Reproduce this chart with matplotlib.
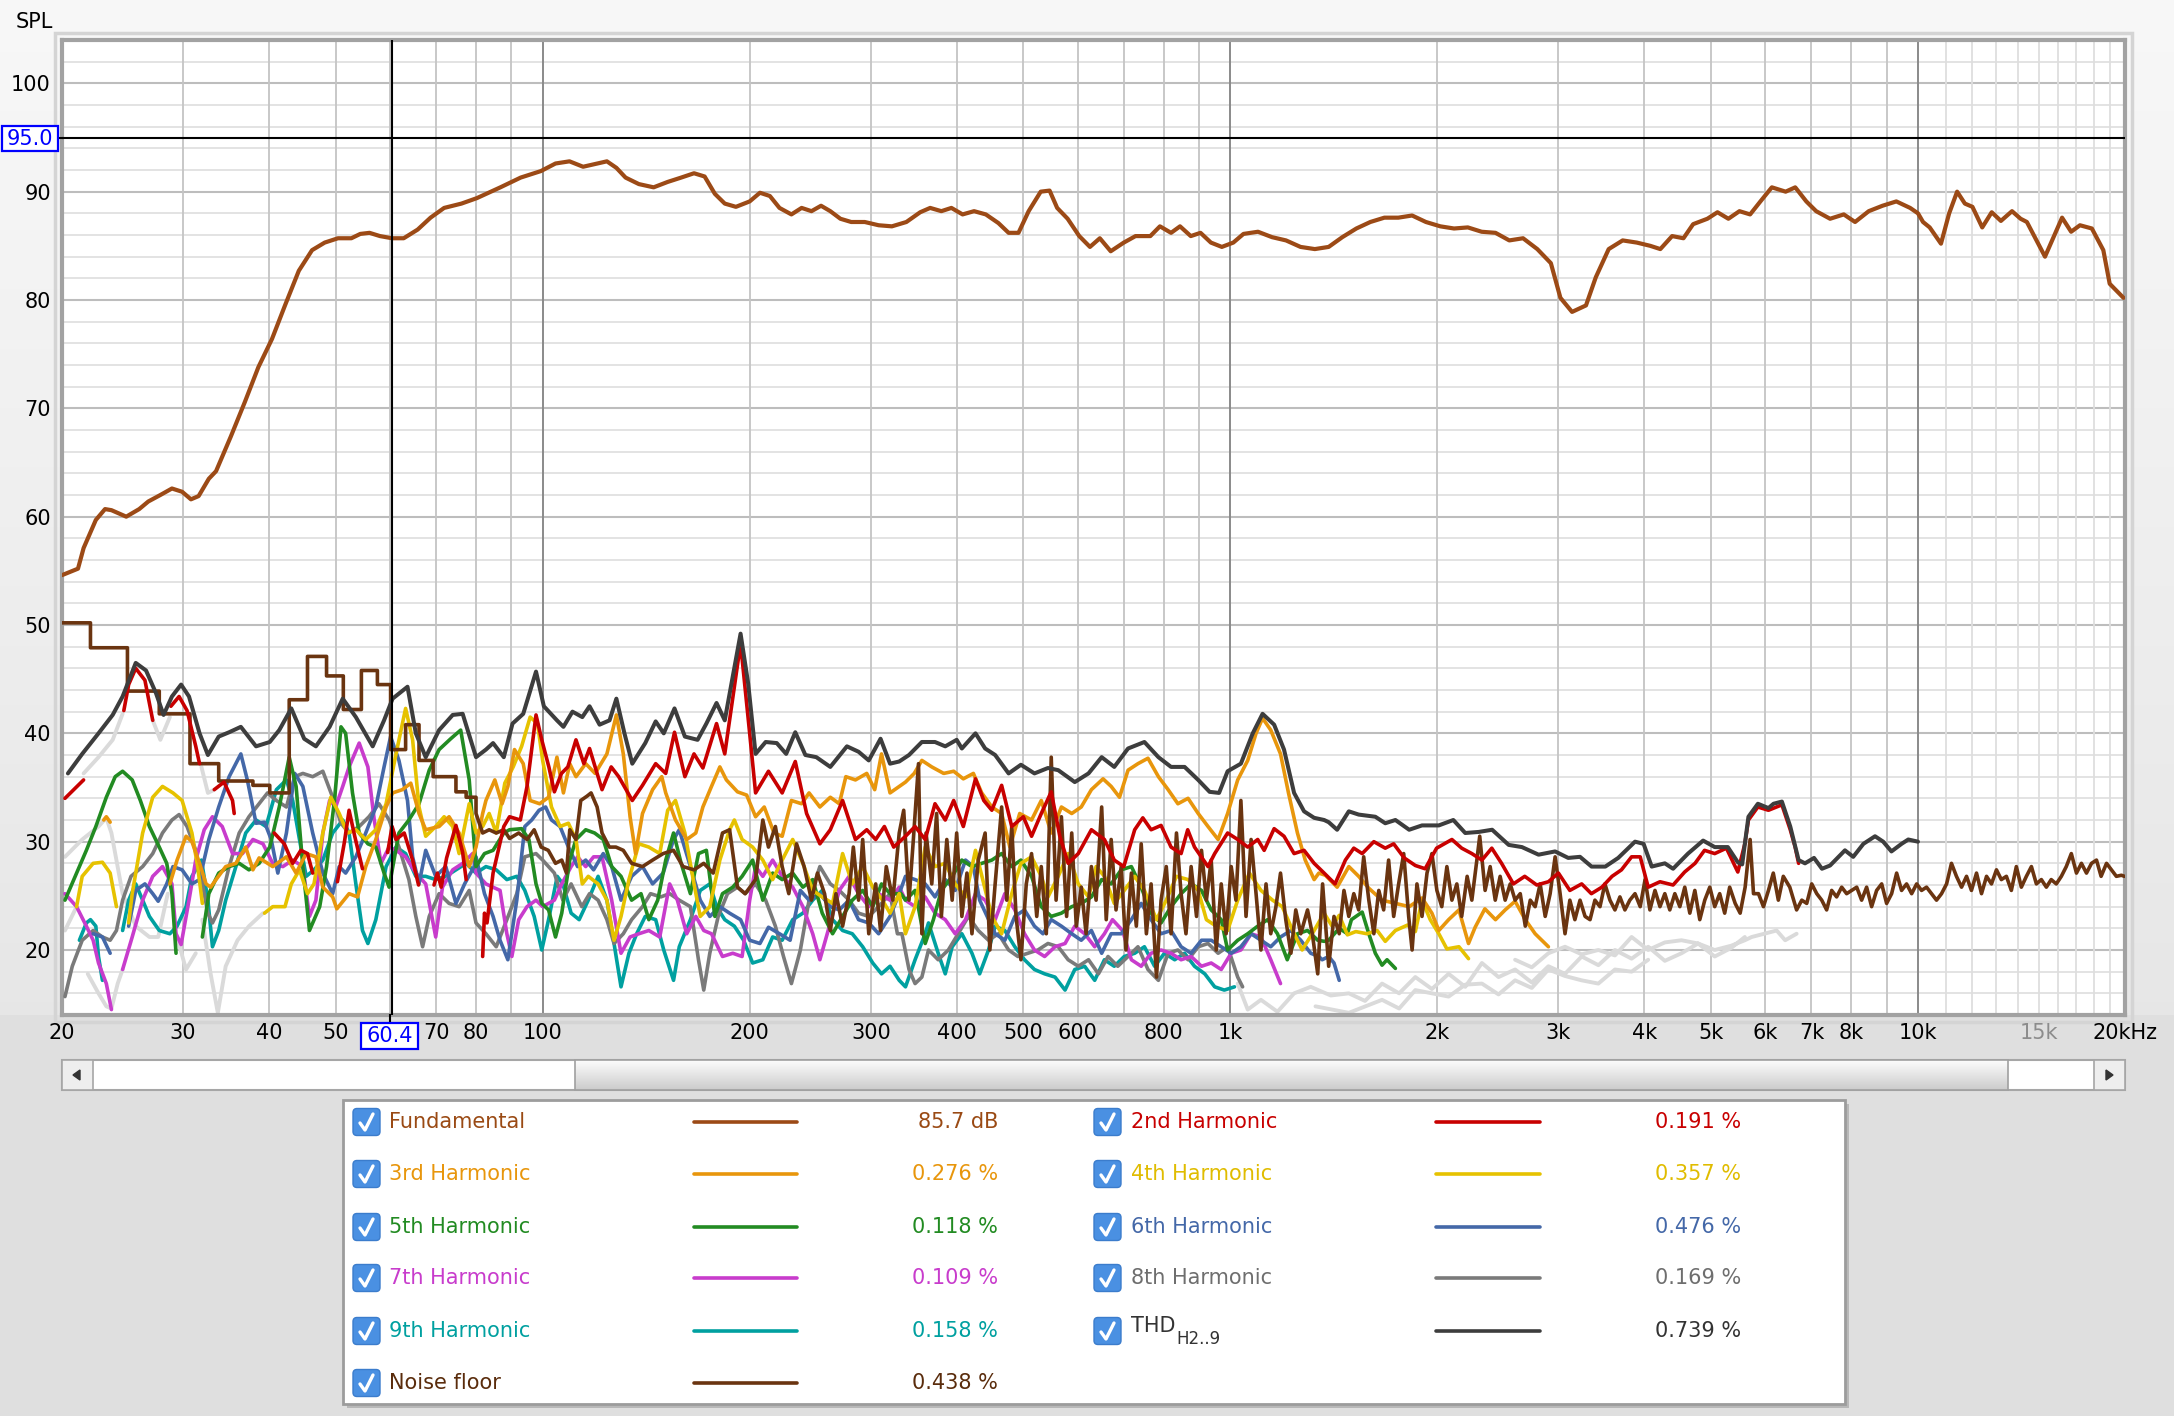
import numpy as np
import matplotlib
matplotlib.use('Agg')
import matplotlib.pyplot as plt
from matplotlib.patches import Rectangle, FancyBboxPatch, Polygon
from matplotlib.lines import Line2D
import matplotlib.transforms as mtransforms
from matplotlib.ticker import NullLocator

nan = float('nan')

# ---------------- data (frequency Hz, level dB) ----------------
fund = [(20, 54.6), (21.1, 55.2), (21.5, 57.1), (22.4, 59.7), (23.1, 60.7), (23.6, 60.6), (24.8, 60.0), (25.9, 60.7),
        (26.7, 61.4), (27.8, 62.0), (28.9, 62.6), (29.9, 62.3), (30.8, 61.6), (31.6, 61.9), (32.7, 63.5), (33.5, 64.2),
        (35.2, 67.4), (36.9, 70.6), (38.6, 73.8), (40.4, 76.4), (42.2, 79.5), (44.2, 82.7), (46.2, 84.6), (48.2, 85.3),
        (50.4, 85.7), (52.7, 85.7), (54.3, 86.1), (56, 86.2), (58, 85.9), (60.4, 85.7), (62.8, 85.7), (65.8, 86.5),
        (68.7, 87.6), (71.9, 88.5), (76.2, 88.9), (80.2, 89.4), (86.8, 90.4), (92.9, 91.3), (99.4, 91.9), (104.4, 92.6),
        (109.4, 92.8), (114.5, 92.3), (120, 92.6), (124, 92.8), (128, 92.2), (132, 91.3), (138, 90.7), (145, 90.4),
        (152, 90.9), (159, 91.3), (166, 91.7), (172, 91.4), (178, 89.8), (184, 88.9), (191, 88.6), (200, 89.1),
        (207, 89.9), (214, 89.6), (221, 88.5), (230, 87.9), (238, 88.5), (246, 88.2), (254, 88.7), (262, 88.2),
        (271, 87.5), (281, 87.2), (294, 87.2), (308, 86.9), (322, 86.8), (338, 87.2), (354, 88.1), (366, 88.5),
        (380, 88.2), (393, 88.5), (408, 87.9), (424, 88.2), (441, 87.9), (460, 87.1), (476, 86.2), (492, 86.2),
        (509, 88.2), (530, 90.0), (546, 90.1), (560, 88.5), (580, 87.5), (603, 85.9), (625, 84.9), (646, 85.7),
        (670, 84.5), (700, 85.3), (728, 85.9), (765, 85.9), (790, 86.8), (820, 86.2), (845, 86.8), (876, 85.9),
        (905, 86.2), (937, 85.3), (972, 84.9), (1010, 85.3), (1045, 86.1), (1097, 86.3), (1150, 85.8), (1205, 85.5),
        (1265, 84.9), (1327, 84.7), (1390, 84.9), (1455, 85.8), (1525, 86.6), (1598, 87.2), (1675, 87.6), (1755, 87.6),
        (1838, 87.8), (1925, 87.2), (2020, 86.8), (2115, 86.6), (2215, 86.7), (2320, 86.3), (2430, 86.2), (2545, 85.5),
        (2665, 85.7), (2795, 84.7), (2925, 83.4), (3020, 80.2), (3140, 78.9), (3290, 79.5), (3400, 82.1), (3550, 84.7),
        (3720, 85.5), (3900, 85.3), (4080, 85.0), (4220, 84.7), (4390, 85.9), (4560, 85.7), (4710, 87.0), (4940, 87.5),
        (5110, 88.1), (5300, 87.5), (5500, 88.2), (5700, 87.9), (5900, 89.1), (6130, 90.4), (6420, 90.0), (6630, 90.4),
        (6880, 89.1), (7110, 88.2), (7450, 87.5), (7800, 87.9), (8100, 87.2), (8480, 88.2), (8880, 88.7), (9300, 89.1),
        (9740, 88.5), (10000, 88.0), (10170, 87.2), (10400, 86.7), (10800, 85.2), (11100, 88.0), (11400, 90.0),
        (11700, 88.9), (12000, 88.6), (12400, 86.7), (12800, 88.1), (13200, 87.3), (13700, 88.2), (14100, 87.5),
        (14400, 87.2), (15300, 84.0), (16200, 87.6), (16700, 86.3), (17200, 86.9), (17900, 86.6), (18600, 84.6),
        (19000, 81.5), (19900, 80.2)]

h2 = [(20.2, 34.0), (20.8, 34.8), (21.5, 35.7), (21.6, nan),
      (24.6, 42.1), (25.0, 44.5), (25.6, 46.0), (26.4, 44.9), (27.1, 41.2), (27.3, nan),
      (28.8, 42.5), (29.6, 43.4), (30.4, 42.1), (31.3, 38.8), (31.7, 37.2), (32, nan),
      (33.3, 34.8), (34.4, 35.5), (35.4, 33.8), (35.6, 32.6), (36, nan),
      (40.7, 30.8), (42.1, 29.8), (43.3, 28.0), (44.5, 29.2), (45.5, 28.9), (46.3, 27.1), (47, nan),
      (50.3, 26.3), (51.5, 30.0), (52.3, 32.9), (53.3, 30.5), (54.7, 27.5), (55, nan),
      (59.5, 29.0), (60.4, 31.4), (61.2, 30.2), (62.9, 30.8), (64.7, 28.3), (66.0, 26.0), (66.5, nan),
      (69.5, 26.0), (70.3, 27.1), (71.2, 25.8), (72.5, 28.5), (74.8, 31.5), (76.5, 29.0), (77.4, 26.5), (78, nan),
      (81.8, 19.4), (82.3, 23.4), (83.0, 22.5), (84.7, 27.1), (87.8, 31.4), (89.5, 32.3), (92.8, 32.0), (94.9, 35.1),
      (97.8, 41.7), (99.7, 39.4), (102.1, 36.9), (104, 34.6), (106.5, 36.3), (108.8, 36.9), (111.8, 39.4),
      (114.8, 37.2), (117, 38.6), (122, 34.8), (125.8, 36.9), (129, 36.0), (135, 33.8), (139.7, 35.2), (146, 37.2),
      (151, 36.3), (155.5, 40.1), (161, 36.0), (166, 38.1), (171, 36.8), (179, 40.9), (184, 38.1), (194, 48.3),
      (200, 40.0), (204, 34.5), (213, 36.5), (223, 34.5), (233, 37.4), (242, 32.6), (253, 29.8), (262, 31.1),
      (273, 33.8), (285, 30.2), (296, 31.1), (305, 30.2), (314, 31.4), (324, 29.5), (337, 30.5), (348, 31.4),
      (360, 30.2), (372, 33.5), (385, 32.0), (396, 33.8), (409, 31.4), (426, 35.8), (438, 33.8), (450, 32.9),
      (465, 35.2), (481, 31.4), (500, 32.3), (514, 30.5), (531, 32.6), (549, 34.6), (565, 30.5), (581, 28.0),
      (601, 28.9), (628, 31.1), (656, 30.2), (678, 28.3), (700, 27.7), (726, 31.1), (746, 32.2), (767, 31.1),
      (793, 31.5), (820, 29.5), (848, 28.9), (867, 31.1), (887, 29.5), (928, 27.7), (949, 28.9), (991, 30.8),
      (1025, 30.2), (1060, 29.5), (1096, 30.2), (1120, 29.2), (1158, 31.2), (1197, 30.5), (1238, 28.9),
      (1280, 29.2), (1324, 28.0), (1369, 27.1), (1420, 26.1), (1470, 28.3), (1512, 29.4), (1555, 28.9),
      (1617, 30.0), (1680, 29.4), (1728, 29.8), (1790, 28.5), (1858, 27.8), (1920, 27.5), (1995, 29.4),
      (2100, 30.2), (2170, 29.4), (2245, 28.9), (2322, 28.3), (2400, 29.4), (2480, 28.0), (2580, 26.1),
      (2680, 26.8), (2790, 26.0), (2901, 26.3), (3000, 27.1), (3117, 25.5), (3243, 26.1), (3350, 25.2),
      (3470, 25.8), (3590, 26.8), (3705, 27.4), (3833, 28.6), (3945, 28.6), (4052, 25.8), (4215, 26.3),
      (4404, 26.0), (4578, 27.2), (4740, 28.0), (4893, 29.2), (5063, 28.9), (5265, 29.4), (5470, 27.2),
      (5600, 29.8), (5668, 32.0), (5850, 33.2), (6061, 32.9), (6340, 33.4), (6520, 31.1), (6628, 29.5),
      (6705, 28.0)]

h3 = [(23.0, 32.0), (23.2, 32.3), (23.5, 31.8), (23.6, nan),
      (28.7, 26.1), (29.4, 28.3), (30.3, 30.5), (30.9, 30.0), (31.7, 28.0), (32.4, 26.1), (32.9, 25.8), (33.5, 26.5),
      (34.6, 27.7), (35.8, 28.0), (37.0, 29.5), (37.9, 27.4), (38.7, 28.5), (40.5, 27.7), (42.4, 28.6), (43.8, 27.1),
      (45.3, 28.9), (46.8, 28.6), (47.9, 25.8), (49.5, 24.9), (50.2, 23.8), (52.3, 25.2), (53.8, 24.9), (55.3, 27.7),
      (57.2, 30.2), (59.2, 33.2), (60.5, 34.5), (62.5, 34.8), (64.3, 35.4), (66.1, 32.6), (67.6, 31.1), (70.7, 31.4),
      (73.1, 32.3), (75.6, 30.8), (78.2, 27.7), (80.0, 29.5), (81.8, 32.6), (82.7, 33.8), (85.2, 35.7), (87.3, 33.5),
      (89, 35.1), (91, 38.5), (93.7, 37.2), (95.9, 33.8), (99, 33.5), (102, 34.1), (104.9, 37.8), (107.2, 34.5),
      (109.5, 37.2), (111.8, 36.0), (115.5, 37.2), (119.2, 36.3), (124, 38.1), (128, 41.7), (131, 38.1), (134, 32.3),
      (136.5, 28.9), (139.7, 32.6), (144.5, 34.8), (149, 36.0), (151, 34.5), (156, 32.0), (162, 30.2), (167, 30.8),
      (171, 33.2), (176, 35.1), (181, 36.9), (185, 35.7), (192, 34.6), (198, 34.3), (204, 32.3), (210, 33.2),
      (217, 30.8), (223, 30.5), (230, 33.8), (238, 33.5), (244, 34.5), (253, 33.2), (262, 34.1), (270, 33.5),
      (276, 36.0), (285, 35.7), (296, 36.3), (304, 34.8), (311, 38.1), (320, 34.5), (330, 35.1), (337, 35.5),
      (347, 36.3), (356, 37.5), (368, 36.9), (383, 36.3), (396, 36.5), (409, 35.8), (423, 36.3), (435, 34.5),
      (450, 33.2), (465, 32.6), (478, 29.5), (494, 32.6), (514, 32.0), (531, 33.8), (549, 30.8), (568, 33.2),
      (588, 32.6), (607, 33.2), (628, 34.8), (653, 35.8), (671, 35.1), (690, 34.1), (710, 36.6), (734, 37.2),
      (759, 37.7), (786, 36.0), (812, 34.8), (839, 33.5), (868, 34.0), (898, 32.6), (928, 31.4), (960, 30.2),
      (991, 32.6), (1025, 35.7), (1060, 37.5), (1090, 40.0), (1114, 41.4), (1145, 40.3), (1183, 38.1), (1215, 34.5),
      (1252, 30.8), (1285, 28.3), (1324, 26.5), (1345, 27.1), (1375, 26.9), (1430, 25.8), (1487, 27.7), (1537, 26.8),
      (1590, 25.7), (1662, 24.6), (1738, 24.3), (1820, 24.0), (1900, 24.8), (1964, 23.4), (2010, 21.8), (2077, 22.8),
      (2150, 23.7), (2220, 20.6), (2270, 22.1), (2345, 23.8), (2430, 22.8), (2510, 23.7), (2595, 24.5), (2685, 22.8),
      (2775, 21.5), (2901, 20.3)]

h4 = [(21.0, 24.0), (21.4, 26.8), (22.2, 28.0), (22.9, 28.1), (23.5, 27.1), (24.0, 24.0), (24.2, nan),
      (25.0, 22.5), (25.3, 25.2), (26.2, 30.8), (27.1, 34.1), (28.0, 35.1), (29.0, 34.5), (29.9, 33.8), (30.9, 30.8),
      (31.5, 27.7), (32.0, 24.3), (32.2, nan),
      (39.4, 23.4), (40.5, 24.0), (42.2, 24.0), (43.1, 26.1), (44.3, 27.4), (45.5, 25.2), (46.5, 26.1), (47.9, 30.8),
      (49.2, 34.1), (50.6, 32.6), (52, 30.8), (53.5, 31.1), (55.3, 30.2), (57.2, 31.1), (59.2, 33.5), (61.2, 38.1),
      (63.2, 42.3), (64.7, 39.4), (66.1, 33.2), (67.6, 30.5), (69.9, 31.4), (71.9, 32.3), (74, 31.4), (75.6, 28.9),
      (78.2, 33.5), (80, 30.8), (81.8, 31.4), (83.6, 32.6), (85.6, 30.8), (88.1, 35.4), (90.6, 36.9), (93.2, 38.8),
      (95.9, 41.5), (98.3, 40.9), (100, 37.5), (103, 33.2), (106, 31.4), (109, 31.7), (111.8, 30.2), (114.2, 26.1),
      (116.5, 26.8), (120.4, 26.1), (124, 24.6), (127, 20.9), (130, 23.1), (133.5, 26.5), (138, 29.8), (142.7, 29.5),
      (148, 28.9), (152, 32.9), (156, 33.8), (161, 30.8), (166, 26.1), (169.5, 23.1), (175, 24.0), (181, 28.3),
      (187, 31.1), (190, 32.0), (195, 30.2), (202, 29.5), (209, 28.3), (216, 26.5), (223, 28.3), (231, 30.2),
      (239, 28.0), (247, 25.5), (255, 24.9), (264, 24.3), (273, 28.9), (282, 26.1), (292, 27.7), (302, 25.8),
      (312, 24.6), (320, 23.4), (330, 25.2), (337, 21.5), (348, 24.0), (360, 29.5), (372, 27.7), (385, 28.0),
      (398, 26.1), (412, 24.9), (426, 29.2), (438, 26.1), (450, 23.1), (465, 21.5), (481, 25.2), (496, 28.0),
      (514, 28.6), (531, 26.8), (543, 24.9), (562, 26.8), (581, 28.9), (601, 26.1), (622, 24.9), (638, 27.7),
      (656, 26.8), (678, 24.3), (701, 25.5), (726, 26.8), (750, 25.5), (781, 22.8), (807, 24.6), (835, 26.8),
      (868, 26.5), (898, 25.5), (923, 22.8), (954, 22.2), (991, 21.8), (1025, 24.6), (1066, 27.1), (1108, 25.5),
      (1152, 24.6), (1190, 24.0), (1232, 21.8), (1272, 20.0), (1324, 21.8), (1369, 23.4), (1406, 22.2), (1440, 23.2),
      (1480, 21.4), (1522, 21.7), (1580, 21.5), (1635, 21.8), (1680, 20.8), (1738, 21.8), (1810, 22.3), (1858, 21.7),
      (1900, 24.6), (1953, 22.8), (2010, 21.5), (2065, 20.1), (2150, 20.3), (2220, 19.2)]

h5 = [(20.2, 24.6), (21.0, 27.1), (21.7, 29.2), (22.4, 31.4), (23.2, 34.1), (23.9, 36.0), (24.5, 36.5), (25.3, 35.7),
      (26.0, 33.8), (26.8, 31.4), (27.7, 29.5), (28.4, 28.0), (28.9, 25.2), (29.3, 19.7), (29.5, nan),
      (32.0, 21.2), (32.7, 25.2), (33.8, 27.1), (35.0, 27.7), (36.2, 28.0), (37.4, 27.4), (38.7, 28.0), (40.1, 29.5),
      (41.4, 33.2), (42.8, 37.8), (43.8, 35.1), (44.8, 27.7), (45.8, 21.8), (47.4, 24.0), (48.5, 27.7), (49.8, 33.8),
      (50.9, 40.6), (51.7, 40.0), (52.9, 34.5), (54.1, 30.8), (55.7, 29.8), (57.2, 29.5), (58.8, 27.1), (59.8, 25.8),
      (61.8, 30.8), (63.9, 32.0), (66.1, 33.5), (68.4, 36.6), (70.7, 38.5), (73.5, 39.5), (76, 40.3), (78.2, 35.7),
      (80, 27.7), (82.3, 28.9), (84.7, 29.2), (87.8, 30.8), (89.5, 31.1), (93.2, 31.2), (95.5, 30.2), (97.8, 26.1),
      (99.7, 24.3), (102, 23.7), (104.4, 21.2), (106.6, 23.4), (109.5, 28.3), (111.8, 30.2), (115.5, 31.1),
      (119, 30.8), (122.5, 30.2), (126, 27.7), (130, 26.8), (134.7, 24.6), (139, 25.2), (142.7, 22.8), (147, 24.6),
      (151, 28.3), (155, 30.8), (159, 28.0), (164, 25.2), (168.5, 28.9), (173, 29.2), (178, 23.1), (182.6, 25.2),
      (189, 25.8), (195, 26.8), (202, 28.3), (209, 24.6), (216, 27.1), (223, 26.5), (231, 27.1), (239, 25.8),
      (247, 26.5), (255, 23.4), (264, 21.5), (273, 23.1), (282, 24.6), (292, 25.5), (302, 24.0), (311, 26.1),
      (320, 25.2), (332, 25.2), (337, 24.6), (348, 25.5), (360, 20.6), (370, 22.8), (380, 25.5), (394, 26.8),
      (407, 28.3), (421, 27.7), (435, 28.0), (450, 28.3), (465, 28.9), (481, 27.7), (496, 28.3), (514, 26.8),
      (531, 24.0), (549, 23.1), (568, 23.4), (588, 24.0), (607, 24.3), (628, 24.9), (650, 26.5), (671, 26.1),
      (694, 27.4), (718, 27.7), (742, 25.8), (767, 23.4), (793, 22.5), (820, 24.0), (848, 25.2), (877, 26.1),
      (908, 25.5), (938, 23.7), (970, 22.8), (991, 20.0), (1025, 20.9), (1060, 21.5), (1096, 22.2), (1133, 22.8),
      (1171, 21.5), (1210, 19.1), (1252, 21.5), (1295, 21.8), (1340, 20.9), (1370, 20.8), (1390, 20.9), (1440, 22.0),
      (1480, 21.5), (1500, 22.8), (1555, 23.5), (1590, 21.5), (1625, 19.7), (1662, 18.6), (1690, 19.1), (1738, 18.3)]

h6 = [(22.2, 21.5), (22.9, 21.2), (23.5, 19.7), (23.7, nan),
      (25.0, 22.2), (25.6, 25.5), (26.4, 26.1), (27.1, 25.2), (27.6, 24.5), (28.4, 26.1), (29.0, 27.7), (29.9, 27.4),
      (30.9, 26.1), (31.7, 26.5), (32.7, 30.2), (33.8, 33.2), (35.0, 36.0), (36.4, 38.1), (37.2, 35.7), (38.3, 31.7),
      (39.4, 31.8), (40.3, 30.2), (41.2, 27.1), (42.4, 30.8), (43.6, 36.3), (44.8, 35.1), (46.3, 30.8), (47.9, 27.1),
      (49.5, 25.2), (50.6, 27.7), (51.7, 27.1), (53.5, 28.6), (55.3, 30.8), (57.2, 33.2), (58.8, 36.9), (60.1, 39.7),
      (61.8, 37.5), (63.6, 33.8), (64.7, 28.6), (66.1, 26.1), (67.6, 29.2), (69.9, 26.8), (72.3, 27.7), (74.8, 24.3),
      (77, 26.1), (79.5, 27.7), (80, 28.6), (82.3, 25.2), (84.7, 23.1), (86.7, 20.9), (89, 19.1), (91.7, 24.6),
      (94.2, 31.4), (96.4, 32.0), (98.8, 32.9), (101, 33.2), (103, 32.0), (106, 31.4), (109, 29.5), (112.4, 27.7),
      (115.5, 28.3), (118.6, 27.4), (122.5, 28.9), (126, 27.7), (130, 24.6), (134.7, 26.8), (139.7, 27.7),
      (144.5, 26.1), (149.7, 27.1), (155, 30.2), (158, 31.1), (164, 27.7), (169.5, 24.6), (175, 23.1), (181, 24.0),
      (187, 23.4), (194, 22.8), (200, 20.9), (207, 20.6), (213, 22.1), (221, 21.5), (229, 20.9), (237, 25.5),
      (244, 24.6), (253, 25.2), (262, 24.0), (270, 23.7), (279, 24.6), (288, 22.8), (298, 22.5), (308, 21.5),
      (320, 23.1), (330, 25.2), (337, 26.8), (348, 26.5), (360, 26.1), (372, 24.9), (385, 26.5), (398, 25.5),
      (412, 28.3), (423, 27.7), (432, 24.6), (443, 23.1), (455, 21.5), (470, 20.9), (486, 23.1), (502, 23.7),
      (519, 22.2), (534, 21.5), (549, 22.8), (568, 22.2), (588, 21.5), (607, 20.9), (628, 21.8), (650, 19.7),
      (671, 21.5), (694, 21.5), (718, 22.8), (742, 24.3), (767, 22.8), (793, 21.5), (820, 21.8), (848, 20.3),
      (877, 19.7), (908, 20.9), (938, 20.9), (970, 20.3), (1003, 19.7), (1036, 20.3), (1072, 21.5), (1108, 20.9),
      (1145, 20.3), (1183, 21.2), (1225, 21.8), (1266, 20.9), (1309, 19.7), (1345, 19.4), (1360, 19.1), (1390, 19.4),
      (1415, 18.8), (1440, 17.2)]

h7 = [(20.2, 25.2), (21.0, 24.0), (21.7, 22.2), (22.2, 20.9), (22.6, 18.8), (23.2, 16.9), (23.6, 14.5), (24.0, nan),
      (24.5, 18.2), (25.3, 21.2), (26.2, 24.6), (27.1, 26.8), (28.0, 27.7), (28.9, 26.1), (29.3, 21.5), (29.8, 20.5),
      (30.6, 24.6), (31.3, 28.3), (32.2, 31.1), (33.1, 32.3), (34.2, 31.4), (35.4, 28.9), (36.6, 28.9), (37.9, 30.2),
      (39.2, 29.8), (40.5, 28.0), (41.9, 27.7), (43.3, 28.3), (44.8, 27.7), (45.8, 23.1), (46.8, 24.6), (47.9, 30.8),
      (49.0, 33.8), (50.0, 33.2), (51.2, 35.1), (52.3, 36.9), (54.1, 39.1), (55.7, 36.9), (56.9, 32.0), (58.2, 28.0),
      (59.8, 29.5), (61.2, 29.2), (63.2, 28.6), (65.4, 27.1), (67.6, 26.1), (69.9, 21.2), (71.5, 25.8), (74, 27.4),
      (76.5, 28.0), (79.1, 28.9), (80, 27.1), (82.7, 26.1), (86.7, 25.5), (88.7, 21.5), (90.2, 19.4), (92.3, 22.8),
      (94.9, 24.0), (97.8, 24.6), (100, 24.0), (104, 24.6), (106.6, 26.1), (110, 27.7), (112.4, 28.6), (115.5, 27.7),
      (118.6, 28.6), (122, 28.6), (126, 24.6), (130, 19.7), (134, 21.2), (138, 21.5), (142.7, 21.8), (148, 21.2),
      (153, 26.1), (157, 24.6), (162, 21.5), (167, 23.1), (171.5, 21.8), (176, 21.5), (182.6, 19.4), (189, 19.7),
      (195, 19.4), (200, 24.6), (204, 27.7), (209, 26.8), (216, 28.3), (223, 26.8), (231, 25.8), (239, 24.0),
      (247, 21.5), (253, 19.1), (262, 22.5), (270, 25.5), (279, 26.8), (288, 25.2), (298, 24.0), (308, 25.2),
      (320, 24.6), (330, 25.8), (337, 24.6), (348, 24.0), (360, 24.9), (372, 23.4), (385, 22.8), (398, 21.5),
      (412, 22.8), (426, 25.2), (440, 24.6), (455, 22.8), (470, 25.2), (486, 23.7), (502, 21.5), (519, 20.0),
      (537, 19.4), (556, 20.3), (575, 20.6), (594, 22.2), (614, 21.5), (635, 20.3), (656, 21.5), (674, 22.8),
      (697, 21.8), (718, 19.1), (742, 18.5), (767, 19.7), (793, 20.0), (820, 19.7), (848, 19.1), (877, 19.4),
      (908, 18.5), (938, 18.8), (970, 18.2), (1003, 19.7), (1036, 20.0), (1072, 21.5), (1108, 21.2), (1145, 19.1),
      (1183, 16.9)]

h8 = [(20.2, 15.7), (20.7, 18.5), (21.4, 20.9), (22.2, 21.8), (22.9, 21.2), (23.5, 20.9), (24.0, 21.8), (24.5, 24.6),
      (25.2, 26.8), (26.2, 27.7), (27.1, 28.9), (28.0, 30.8), (28.9, 32.0), (29.6, 32.5), (30.4, 31.4), (31.3, 29.2),
      (32.0, 26.1), (32.6, 23.4), (33.1, 22.5), (33.8, 23.7), (35.0, 27.7), (36.2, 30.8), (37.4, 32.3), (38.7, 33.5),
      (39.8, 34.5), (41.0, 33.8), (42.4, 33.2), (43.6, 36.0), (44.8, 36.3), (46.3, 36.0), (47.9, 36.5), (49.5, 34.1),
      (50.9, 31.7), (52.3, 30.8), (54.1, 31.4), (55.9, 32.3), (57.8, 33.5), (59.8, 32.0), (61.8, 29.5), (63.9, 26.5),
      (65.4, 23.1), (66.9, 20.3), (68.4, 23.1), (70.7, 25.2), (73.1, 24.3), (75.6, 24.0), (78.2, 25.5), (80, 22.5),
      (82.7, 21.5), (85.6, 20.3), (88.7, 22.8), (91.7, 25.2), (94.2, 28.6), (97.8, 28.9), (100, 28.3), (104, 27.1),
      (107, 24.6), (110, 26.1), (114, 24.0), (117, 25.2), (120.4, 24.6), (124, 22.8), (127, 20.6), (131, 21.5),
      (134.7, 22.8), (139.7, 24.0), (143.5, 25.2), (148.5, 24.9), (153, 25.2), (158, 24.6), (164, 24.0), (168.5, 19.1),
      (171.5, 16.3), (175, 19.7), (180, 23.1), (185.7, 25.2), (192, 25.8), (197, 25.2), (204, 26.1), (211, 24.6),
      (218, 22.2), (224, 19.4), (230, 16.9), (237, 20.0), (244, 24.6), (253, 27.7), (262, 26.1), (270, 25.5),
      (279, 24.6), (288, 23.4), (298, 23.1), (308, 24.0), (320, 25.2), (328, 21.5), (333, 21.5), (341, 18.2),
      (348, 16.9), (356, 17.5), (364, 20.0), (376, 19.1), (389, 20.0), (402, 21.5), (416, 23.1), (430, 21.8),
      (445, 20.9), (460, 21.5), (476, 20.0), (491, 19.4), (508, 19.7), (525, 20.0), (543, 20.6), (562, 20.3),
      (581, 19.1), (601, 18.5), (622, 19.1), (643, 17.8), (664, 19.4), (686, 18.5), (710, 19.4), (734, 20.3),
      (759, 18.2), (786, 17.2), (812, 19.7), (839, 20.0), (868, 19.1), (898, 20.3), (928, 20.6), (960, 19.7),
      (991, 20.3), (1025, 17.5), (1042, 16.6)]

h9 = [(21.2, 20.9), (21.7, 22.5), (22.0, 22.8), (22.4, 22.2), (22.6, 19.4), (22.9, 17.2), (23.1, nan),
      (24.5, 21.8), (25.0, 24.6), (25.6, 26.1), (26.2, 24.6), (26.8, 23.1), (27.7, 21.8), (28.7, 21.5), (29.4, 22.2),
      (30.3, 24.0), (30.9, 26.8), (31.9, 28.3), (32.6, 24.6), (33.1, 20.3), (33.8, 21.8), (34.6, 24.6), (35.8, 27.7),
      (37.0, 30.8), (38.3, 32.0), (39.6, 31.4), (41.0, 34.8), (42.4, 35.7), (43.3, 33.8), (44.3, 30.2), (45.3, 26.8),
      (46.5, 27.4), (47.9, 28.3), (49.5, 30.8), (51.2, 32.0), (52.3, 30.8), (53.5, 26.1), (54.7, 21.8), (55.7, 20.6),
      (57.2, 22.8), (59.2, 27.7), (61.2, 29.5), (63.2, 28.9), (65.4, 26.8), (67.6, 26.8), (69.9, 26.5), (72.3, 26.8),
      (74.8, 27.4), (77.4, 28.0), (80, 27.1), (82.7, 27.7), (85.6, 27.4), (88.7, 26.5), (91.7, 26.8), (94.2, 25.5),
      (97.2, 23.1), (99.7, 20.0), (102, 22.8), (105, 26.8), (107, 26.1), (110, 23.4), (113, 22.8), (116.5, 24.6),
      (120.4, 26.8), (124, 24.6), (127, 20.6), (130, 16.6), (133.5, 19.7), (137, 21.5), (141, 23.1), (146, 22.8),
      (150, 20.0), (155, 17.2), (158, 20.3), (164, 22.8), (169.5, 25.5), (175, 26.1), (179, 24.0), (184, 22.8),
      (190, 22.2), (196, 20.9), (202, 18.8), (209, 19.1), (216, 21.2), (223, 20.9), (231, 22.8), (239, 23.4),
      (247, 24.6), (255, 25.5), (264, 22.8), (273, 21.8), (282, 21.5), (292, 20.3), (302, 18.8), (311, 17.8),
      (320, 18.5), (330, 17.2), (337, 16.6), (348, 19.1), (360, 21.5), (364, 22.5), (376, 19.7), (385, 17.8),
      (394, 20.3), (407, 21.5), (421, 19.7), (432, 17.8), (445, 20.0), (455, 22.2), (470, 21.8), (486, 20.3),
      (502, 19.1), (519, 18.2), (537, 17.8), (556, 17.5), (575, 16.3), (594, 18.2), (614, 18.5), (635, 17.2),
      (656, 19.1), (678, 18.5), (701, 19.4), (726, 19.7), (750, 20.3), (776, 18.5), (802, 19.7), (830, 19.1),
      (858, 19.7), (887, 18.5), (918, 17.8), (949, 16.6), (980, 16.3), (1014, 16.6)]

thd = [(20.4, 36.3), (21.4, 38.1), (22.6, 40.0), (23.7, 41.7), (24.5, 43.4), (25.6, 46.5), (26.5, 45.8), (27.4, 43.7),
       (28.1, 41.7), (28.9, 43.4), (29.8, 44.5), (30.6, 43.4), (31.7, 40.0), (32.6, 38.0), (33.8, 39.7), (35.0, 40.1),
       (36.4, 40.6), (38.3, 38.8), (40.1, 39.2), (41.4, 40.3), (43.1, 42.3), (45.0, 39.5), (46.8, 38.8), (49.0, 40.6),
       (51.2, 43.2), (53.5, 41.5), (56.6, 38.8), (58.8, 41.2), (60.5, 43.2), (63.6, 44.3), (65.4, 40.0), (67.6, 37.8),
       (70.7, 40.3), (74, 41.7), (76.5, 41.8), (80, 37.8), (82.7, 38.5), (84.7, 39.1), (87.8, 37.8), (90.4, 40.9),
       (93.7, 41.8), (97.8, 45.7), (100.4, 42.5), (104.9, 41.2), (107.2, 40.6), (110.5, 42.0), (114.2, 41.5),
       (117, 42.5), (121, 40.8), (125.1, 41.2), (128, 43.2), (131.5, 40.0), (135, 37.2), (141, 39.1), (146, 41.1),
       (150, 40.0), (155.5, 42.3), (161, 39.7), (168, 39.4), (173, 40.9), (179, 42.8), (184, 41.2), (194, 49.2),
       (199, 44.6), (204, 38.1), (211, 39.2), (219, 39.1), (226, 38.1), (233, 40.1), (241, 38.0), (250, 37.8),
       (262, 36.9), (277, 38.8), (288, 38.3), (298, 37.5), (310, 39.5), (320, 37.2), (330, 37.4), (341, 38.0),
       (356, 39.2), (372, 39.2), (385, 38.8), (400, 39.4), (407, 38.6), (426, 40.0), (440, 38.6), (455, 38.0),
       (476, 36.3), (496, 37.1), (519, 36.3), (543, 36.8), (562, 36.6), (594, 35.5), (622, 36.3), (650, 37.8),
       (678, 36.9), (710, 38.6), (750, 39.2), (786, 37.8), (820, 36.9), (858, 36.9), (898, 35.7), (933, 34.6),
       (963, 34.5), (991, 36.5), (1036, 37.2), (1078, 40.0), (1114, 41.8), (1158, 40.8), (1197, 38.5), (1238, 34.5),
       (1280, 32.8), (1324, 32.2), (1369, 32.0), (1390, 31.8), (1430, 31.1), (1487, 32.8), (1537, 32.5), (1625, 32.3),
       (1680, 31.7), (1738, 32.0), (1820, 31.1), (1900, 31.5), (2010, 31.5), (2110, 32.0), (2196, 30.8), (2298, 30.9),
       (2403, 31.1), (2540, 29.7), (2655, 29.5), (2807, 28.8), (2967, 29.1), (3100, 28.5), (3225, 28.6), (3352, 27.7),
       (3510, 27.7), (3665, 28.5), (3877, 30.0), (3990, 29.8), (4100, 27.7), (4284, 28.0), (4404, 27.5), (4630, 28.9),
       (4870, 30.1), (5063, 29.5), (5290, 29.5), (5470, 28.1), (5550, 27.9), (5668, 32.3), (5850, 33.5), (6061, 33.1),
       (6165, 33.5), (6340, 33.7), (6520, 31.4), (6705, 28.3), (6850, 28.0), (7060, 28.5), (7250, 27.5), (7450, 27.8),
       (7830, 29.2), (8050, 28.6), (8330, 29.8), (8660, 30.5), (8900, 30.0), (9150, 29.1), (9465, 29.8), (9680, 30.2),
       (10000, 30.0)]

noise = [(20, 50.2), (22.0, 50.2), (22.0, 47.9), (24.9, 47.9), (24.9, 43.9), (27.7, 43.9), (27.7, 41.8), (30.7, 41.8),
         (30.7, 37.2), (33.8, 37.2), (33.8, 35.6), (37.9, 35.6), (37.9, 35.2), (40.1, 35.2), (40.1, 34.5), (42.8, 34.5),
         (42.8, 43.1), (45.5, 43.1), (45.5, 47.1), (48.5, 47.1), (48.5, 45.3), (51.3, 45.3), (51.3, 42.2), (54.5, 42.2),
         (54.5, 45.8), (57.5, 45.8), (57.5, 44.5), (60.1, 44.5), (60.1, 38.5), (63.2, 38.5), (63.2, 40.8), (66.1, 40.8),
         (66.1, 37.5), (69.3, 37.5), (69.3, 36.0), (74.8, 36.0), (74.8, 34.6), (77.4, 34.6), (77.4, 34.1), (80, 34.1),
         (80, 32.6), (81.8, 30.8), (83.6, 31.1), (85.6, 30.8), (87.8, 31.1), (89.5, 30.3), (92.3, 30.8), (94.9, 30.2),
         (97.2, 31.1), (99.5, 29.5), (101.9, 29.2), (104.4, 28.0), (106.6, 28.3), (108.3, 27.1), (109.5, 31.1),
         (111.8, 30.2), (113.6, 33.8), (116, 34.2), (117.6, 34.5), (120, 33.2), (122, 30.8), (125, 29.5), (127.8, 29.5),
         (131, 29.2), (134.7, 28.0), (139.7, 27.7), (144.5, 28.3), (149.7, 28.9), (155, 29.2), (160, 27.7), (166, 27.4),
         (171.5, 28.0), (177, 27.1), (182.6, 30.8), (187, 31.1), (192, 25.8), (197, 25.2), (204, 26.5), (209, 32.0),
         (213, 29.5), (218, 31.4), (223, 27.7), (228, 25.2), (234, 29.8), (240, 27.7), (246, 24.6), (251, 27.1),
         (257, 25.2), (262, 21.8), (267, 25.2), (273, 22.2), (279, 25.2), (283, 29.5), (288, 24.6), (292, 30.2),
         (298, 21.5), (305, 26.1), (310, 21.8), (316, 27.7), (323, 24.6), (330, 30.8), (335, 32.9), (341, 24.6),
         (346, 30.2), (352, 37.2), (356, 21.5), (361, 30.8), (368, 26.1), (374, 32.6), (380, 23.1), (387, 30.2),
         (394, 24.6), (400, 30.8), (407, 23.1), (414, 27.1), (421, 21.5), (430, 28.3), (440, 30.8), (447, 20.0),
         (455, 26.1), (465, 33.2), (473, 24.6), (481, 31.4), (488, 23.1), (496, 19.1), (505, 26.1), (514, 28.9),
         (523, 23.1), (531, 27.7), (540, 21.5), (549, 37.8), (558, 24.6), (568, 32.3), (578, 23.1), (588, 30.8),
         (597, 22.2), (607, 25.8), (617, 21.5), (628, 27.7), (638, 24.6), (650, 33.2), (660, 22.8), (671, 30.2),
         (682, 23.7), (694, 27.7), (705, 20.0), (718, 27.1), (730, 22.2), (742, 29.8), (755, 21.5), (767, 26.1),
         (781, 17.5), (793, 24.6), (807, 27.7), (820, 21.5), (835, 30.8), (848, 25.2), (862, 21.5), (877, 27.7),
         (893, 23.1), (908, 29.2), (923, 24.6), (938, 28.3), (954, 20.0), (970, 26.1), (986, 21.5), (1003, 27.7),
         (1019, 24.6), (1036, 33.8), (1054, 23.1), (1072, 30.2), (1090, 25.2), (1108, 20.0), (1127, 26.1),
         (1145, 21.5), (1165, 24.0), (1183, 27.1), (1204, 22.8), (1225, 19.7), (1245, 23.7), (1266, 21.5),
         (1295, 23.7), (1316, 21.5), (1340, 17.8), (1362, 26.1), (1390, 18.5), (1415, 23.1), (1440, 21.5),
         (1463, 25.5), (1487, 23.1), (1512, 25.2), (1537, 23.7), (1563, 28.6), (1590, 24.6), (1617, 21.5),
         (1644, 25.5), (1671, 23.7), (1699, 28.3), (1728, 23.1), (1757, 26.1), (1787, 28.9), (1817, 23.1),
         (1838, 20.0), (1868, 26.1), (1900, 23.1), (1932, 27.1), (1964, 28.9), (1997, 25.5), (2030, 24.0),
         (2065, 27.7), (2100, 24.6), (2135, 26.1), (2170, 23.1), (2210, 26.8), (2245, 24.6), (2283, 28.3),
         (2305, 30.5), (2347, 25.5), (2387, 27.7), (2428, 24.6), (2468, 26.8), (2510, 24.6), (2553, 26.1),
         (2595, 24.6), (2640, 25.2), (2685, 22.2), (2730, 24.6), (2775, 24.0), (2822, 26.1), (2870, 23.1),
         (2918, 25.2), (2967, 28.6), (3017, 25.2), (3067, 21.5), (3117, 24.6), (3170, 22.8), (3225, 24.6),
         (3280, 23.1), (3335, 22.8), (3390, 24.6), (3448, 24.0), (3505, 26.1), (3565, 24.6), (3625, 23.7),
         (3686, 24.9), (3748, 23.7), (3810, 24.6), (3877, 25.2), (3945, 24.0), (4010, 26.5), (4075, 23.7),
         (4145, 25.5), (4215, 24.0), (4284, 25.2), (4356, 23.7), (4430, 25.2), (4505, 24.0), (4580, 25.8),
         (4658, 23.4), (4737, 25.5), (4816, 22.8), (4897, 24.6), (4980, 25.8), (5063, 24.0), (5148, 25.2),
         (5235, 23.4), (5323, 25.8), (5422, 24.3), (5513, 23.4), (5606, 25.8), (5700, 30.2), (5765, 25.2),
         (5862, 25.2), (5960, 24.0), (6061, 25.5), (6160, 27.1), (6265, 24.6), (6370, 26.8), (6510, 25.8),
         (6660, 23.7), (6777, 24.6), (6890, 24.3), (7006, 26.1), (7125, 25.2), (7245, 24.6), (7365, 23.7),
         (7490, 25.5), (7615, 24.9), (7745, 25.8), (7875, 25.2), (8009, 25.5), (8145, 25.8), (8280, 24.6),
         (8420, 25.8), (8562, 24.0), (8707, 25.5), (8855, 26.1), (9003, 24.3), (9155, 25.2), (9310, 27.1),
         (9465, 25.5), (9625, 26.1), (9790, 25.2), (9955, 26.1), (10120, 25.5), (10290, 25.8), (10465, 25.2),
         (10640, 24.6), (10820, 25.2), (11005, 26.1), (11186, 28.0), (11375, 26.8), (11570, 25.8), (11765, 26.8),
         (11960, 25.5), (12165, 27.1), (12370, 25.2), (12580, 26.8), (12790, 26.1), (13005, 27.4), (13219, 26.5),
         (13445, 26.8), (13670, 25.5), (13900, 27.7), (14135, 25.8), (14375, 26.8), (14620, 27.7), (14865, 26.1),
         (15115, 26.5), (15370, 25.8), (15622, 26.5), (15890, 26.1), (16160, 26.8), (16430, 27.7), (16710, 28.9),
         (17000, 27.1), (17285, 28.0), (17580, 27.1), (17880, 28.0), (18180, 28.3), (18462, 26.8), (18800, 28.0),
         (19110, 27.4), (19430, 26.8), (19760, 26.9), (19960, 26.8)]

# faded (below-noise) harmonic segments
faded_low = [(21.5, 36.3), (22.6, 37.8), (23.7, 39.4), (24.5, 41.8), (24.6, nan),
             (27.1, 41.2), (27.8, 39.4), (28.7, 41.5), (28.8, nan),
             (31.9, 36.9), (32.6, 34.5), (33.3, 34.8), (33.4, nan),
             (20.2, 28.6), (21.4, 30.2), (22.6, 31.4), (23.2, 32.2), (23.6, 30.8), (24.5, 25.2), (25.6, 22.2),
             (26.8, 21.2), (27.6, 21.2), (28.5, 25.2), (28.7, nan),
             (20.2, 21.8), (21.0, 24.0), (21.1, nan),
             (32.0, 22.8), (32.9, 17.8), (33.7, 14.2), (34.6, 18.5), (36.0, 20.9), (37.4, 22.2), (39.2, 23.4), (39.4, nan),
             (21.8, 17.8), (22.6, 16.0), (23.2, 14.8), (23.6, 14.6), (24.1, 16.9), (24.5, 18.2), (24.6, nan),
             (29.3, 21.5), (30.3, 18.2), (31.3, 19.7)]

faded_high = [(1025, 16.9), (1060, 14.5), (1108, 15.4), (1171, 14.3), (1238, 16.0), (1309, 16.6), (1400, 15.8),
              (1487, 16.0), (1570, 15.3), (1662, 16.9), (1760, 16.0), (1858, 17.5), (1964, 16.4), (2077, 17.8),
              (2196, 16.6), (2322, 18.8), (2455, 17.5), (2595, 18.2), (2744, 17.0), (2901, 18.5), (3067, 17.8),
              (3243, 19.4), (3430, 18.6), (3625, 20.0), (3833, 19.2), (4052, 20.3), (4284, 19.0), (4530, 19.7),
              (4789, 20.6), (5063, 20.0), (5353, 20.4), (5600, 20.9), (5730, 21.2), (6230, 21.8), (6410, 20.9),
              (6660, 21.5), (6700, nan),
              (1330, 14.8), (1487, 14.2), (1662, 15.4), (1760, 14.6), (1858, 16.3), (2077, 15.7), (2196, 16.8),
              (2322, 16.9), (2455, 15.9), (2595, 17.2), (2744, 16.5), (2901, 18.2), (3067, 17.6), (3243, 17.2),
              (3429, 16.9), (3625, 18.2), (3833, 18.0), (4052, 19.1), (4100, nan),
              (2595, 19.1), (2744, 18.4), (2901, 19.7), (3067, 20.3), (3243, 19.6), (3429, 20.0), (3625, 19.5),
              (3833, 21.2), (4052, 20.0), (4284, 20.7), (4530, 20.9), (4789, 20.6), (5063, 19.4), (5353, 20.2),
              (5600, 21.2)]

# legend content
leg_left = ['Fundamental', '3rd Harmonic', '5th Harmonic', '7th Harmonic', '9th Harmonic', 'Noise floor']
val_left = ['85.7 dB', '0.276 %', '0.118 %', '0.109 %', '0.158 %', '0.438 %']
leg_right = ['2nd Harmonic', '4th Harmonic', '6th Harmonic', '8th Harmonic', 'THD']
thd_sub = 'H2..9'
val_right = ['0.191 %', '0.357 %', '0.476 %', '0.169 %', '0.739 %']

x_ticks = [20, 30, 40, 50, 70, 80, 100, 200, 300, 400, 500, 600, 800, 1000, 2000, 3000, 4000, 5000, 6000, 7000,
           8000, 10000, 15000, 20000]
x_labels = ['20', '30', '40', '50', '70', '80', '100', '200', '300', '400', '500', '600', '800', '1k', '2k', '3k',
            '4k', '5k', '6k', '7k', '8k', '10k', '15k', '20kHz']
y_ticks = [20, 30, 40, 50, 60, 70, 80, 90, 100]
cursor_f, cursor_db = 60.4, 95.0

# colours
C_FUND = '#9c4a16'
C_H2 = '#c80000'
C_H3 = '#e8960c'
C_H4 = '#e6c200'
C_H5 = '#228b22'
C_H6 = '#4468a8'
C_H7 = '#c83ccc'
C_H8 = '#7a7a7a'
C_H9 = '#00a0a0'
C_THD = '#3d3d3d'
C_NOISE = '#6a3410'
C_FADE = '#dadada'

# ---------------- figure ----------------
W, H = 2174, 1416
plt.rcParams['font.family'] = ['DejaVu Sans']
fig = plt.figure(figsize=(W / 100, H / 100), dpi=100)
PX = mtransforms.Affine2D().scale(1.0 / W, -1.0 / H).translate(0, 1) + fig.transFigure

# background gradient
bg = fig.add_axes([0, 0, 1, 1], zorder=-10)
bg.axis('off')
rows = np.arange(H)
val = np.where(rows < 1015, 0.972 - (0.972 - 0.905) * rows / 1015.0, 0.878)
img = np.repeat(val[:, None], 3, axis=1)[:, None, :]
bg.imshow(img, aspect='auto', extent=[0, 1, 0, 1], interpolation='bilinear')

L, R, T, B = 62, 2125, 40, 1015
ax = fig.add_axes([L / W, 1 - B / H, (R - L) / W, (B - T) / H])
ax.set_xscale('log')
ax.set_xlim(20, 20000)
ax.set_ylim(14, 104)
ax.set_facecolor('white')

# grid
for y in range(16, 104, 2):
    major = (y % 10 == 0)
    ax.axhline(y, color='#bdbdbd' if major else '#e0e0e0', lw=1.5 if major else 1.3, zorder=1)
for f in list(range(30, 100, 10)) + list(range(200, 1000, 100)) + list(range(2000, 10000, 1000)):
    ax.axvline(f, color='#c4c4c4', lw=1.3, zorder=1)
for f in [100, 1000, 10000]:
    ax.axvline(f, color='#8a8a8a', lw=1.4, zorder=1)
for f in range(11000, 20000, 1000):
    ax.axvline(f, color='#dedede', lw=1.3, zorder=1)


def draw(series, color, lw, z):
    fx, fy = zip(*series)
    ax.plot(fx, fy, color=color, lw=lw, zorder=z, solid_joinstyle='round', solid_capstyle='round')


draw(faded_low, C_FADE, 2.8, 2)
draw(faded_high, C_FADE, 2.8, 2)
draw(h9, C_H9, 2.6, 3)
draw(h8, C_H8, 2.6, 3)
draw(h7, C_H7, 2.6, 3)
draw(h6, C_H6, 2.6, 3)
draw(h5, C_H5, 2.6, 3)
draw(h4, C_H4, 2.6, 3)
draw(h3, C_H3, 2.6, 3)
draw(noise, C_NOISE, 2.6, 4)
draw(h2, C_H2, 2.6, 5)
draw(thd, C_THD, 2.9, 6)
draw(fund, C_FUND, 3.0, 7)

ax.axvline(cursor_f, color='black', lw=1.5, zorder=9)
ax.axhline(cursor_db, color='black', lw=1.5, zorder=9)

ax.set_xticks(x_ticks)
ax.set_xticklabels(x_labels)
ax.xaxis.set_minor_locator(NullLocator())
ax.set_yticks(y_ticks)
ax.set_yticklabels([str(v) for v in y_ticks])
ax.yaxis.set_minor_locator(NullLocator())
ax.tick_params(axis='x', length=0, pad=6, labelsize=15, colors='black')
ax.tick_params(axis='y', length=0, pad=8, labelsize=15, colors='black')
ax.get_xticklabels()[-2].set_color('#8c8c8c')
for s in ax.spines.values():
    s.set_color('#a2a2a2')
    s.set_linewidth(3.0)

# frame shadow
fig.add_artist(Rectangle((55, 33), 2077, 989, transform=PX, fill=False, edgecolor='#d4d4d4', lw=2.5, zorder=-5))

# cursor extensions and boxes
fig.add_artist(Line2D([58, 62], [138, 138], transform=PX, color='black', lw=1.5, zorder=5))
fig.add_artist(Line2D([390, 390], [1015, 1023], transform=PX, color='black', lw=1.5, zorder=5))
fig.add_artist(Rectangle((2, 126), 56, 25, transform=PX, facecolor='white', edgecolor='#0000ff', lw=1.6, zorder=6))
fig.text(30, 139, '%.1f' % cursor_db, transform=PX, ha='center', va='center', fontsize=15, color='#0000ff', zorder=7)
fig.add_artist(Rectangle((361, 1023), 57, 26, transform=PX, facecolor='white', edgecolor='#0000ff', lw=1.6, zorder=6))
fig.text(390, 1036.5, '%.1f' % cursor_f, transform=PX, ha='center', va='center', fontsize=15, color='#0000ff', zorder=7)
fig.text(34, 22, 'SPL', transform=PX, ha='center', va='center', fontsize=15, color='black')

# scrollbar
sy, sh = 1060, 30
fig.add_artist(Rectangle((62, sy), 2063, sh, transform=PX, facecolor='white', edgecolor='#a6a6a6', lw=1.5, zorder=2))
tax = fig.add_axes([575 / W, 1 - (sy + sh) / H, (2008 - 575) / W, sh / H], zorder=3)
tax.axis('off')
g = np.linspace(0.99, 0.80, 40)
tax.imshow(np.repeat(g[:, None], 3, axis=1)[:, None, :], aspect='auto', extent=[0, 1, 0, 1])
fig.add_artist(Rectangle((575, sy), 1433, sh, transform=PX, fill=False, edgecolor='#a0a0a0', lw=1.2, zorder=4))
for bx in (62, 2094):
    fig.add_artist(Rectangle((bx, sy), 31, sh, transform=PX, facecolor='#eeeeee', edgecolor='#a6a6a6', lw=1.2, zorder=4))
fig.add_artist(Polygon([[73, sy + 15], [80, sy + 10], [80, sy + 20]], closed=True, transform=PX, color='#333333', zorder=5))
fig.add_artist(Polygon([[2113, sy + 15], [2106, sy + 10], [2106, sy + 20]], closed=True, transform=PX, color='#333333', zorder=5))

# legend box
fig.add_artist(Rectangle((347, 1104), 1502, 304, transform=PX, facecolor='#b8b8b8', edgecolor='none', zorder=2))
fig.add_artist(Rectangle((343, 1100), 1502, 304, transform=PX, facecolor='white', edgecolor='#9c9c9c', lw=2, zorder=3))

row_y = [1122, 1174, 1227, 1278, 1331, 1383]
col_l = dict(cb=353, lab=389, l0=694, l1=797, val=998)
col_r = dict(cb=1094, lab=1131, l0=1436, l1=1540, val=1741)
cols_left = [C_FUND, C_H3, C_H5, C_H7, C_H9, C_NOISE]
txt_left = ['#9a4a14', '#e8960c', '#228b22', '#c83ccc', '#00a0a0', '#5a2c0c']
cols_right = [C_H2, C_H4, C_H6, C_H8, C_THD]
txt_right = ['#c80000', '#e0bc00', '#4468a8', '#6e6e6e', '#333333']


def legend_entry(col, y, label, value, lcolor, tcolor, ty=None):
    x0 = col['cb']
    fig.add_artist(FancyBboxPatch((x0, y - 13.5), 27, 27, boxstyle='round,pad=0,rounding_size=4', transform=PX,
                                  facecolor='#4a90e2', edgecolor='#3b7ccc', lw=1, zorder=4))
    fig.add_artist(Line2D([x0 + 7, x0 + 12, x0 + 20], [y + 1, y + 8, y - 8], transform=PX, color='white', lw=2.4,
                          solid_capstyle='round', solid_joinstyle='round', zorder=5))
    t = fig.text(col['lab'], y if ty is None else ty, label, transform=PX, ha='left', va='center', fontsize=15,
                 color=tcolor, zorder=5)
    fig.add_artist(Line2D([col['l0'], col['l1']], [y, y], transform=PX, color=lcolor, lw=2.6,
                          solid_capstyle='round', zorder=5))
    fig.text(col['val'], y, value, transform=PX, ha='right', va='center', fontsize=15, color=tcolor, zorder=5)
    return t


for i in range(len(leg_left)):
    legend_entry(col_l, row_y[i], leg_left[i], val_left[i], cols_left[i], txt_left[i])
for i in range(len(leg_right)):
    if leg_right[i] == 'THD':
        t = legend_entry(col_r, row_y[i], leg_right[i], val_right[i], cols_right[i], txt_right[i], ty=row_y[i] - 5)
        fig.canvas.draw()
        bb = t.get_window_extent()
        fig.text(bb.x1 / W + 1.0 / W, 1 - (row_y[i] + 8) / H, thd_sub, ha='left', va='center', fontsize=12,
                 color=txt_right[i], zorder=5)
    else:
        legend_entry(col_r, row_y[i], leg_right[i], val_right[i], cols_right[i], txt_right[i])

fig.savefig('out.png', dpi=100)
